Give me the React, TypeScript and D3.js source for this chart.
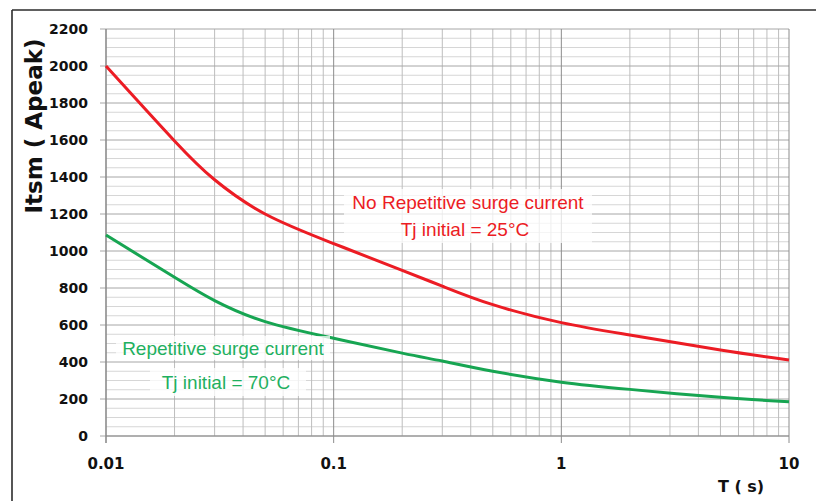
import React from "react";
import * as d3 from "d3";

const times = [0.01, 0.02, 0.03, 0.05, 0.1, 0.2, 0.3, 0.5, 1, 2, 5, 10];
const noRepetitive = [2000, 1595, 1385, 1200, 1040, 895, 810, 710, 613, 546, 465, 411];
const repetitive = [1086, 858, 732, 618, 528, 448, 405, 350, 291, 252, 209, 185];
const xTickValues = [0.01, 0.1, 1, 10];
const xTickLabels = ["0.01", "0.1", "1", "10"];
const yTickValues = [0, 200, 400, 600, 800, 1000, 1200, 1400, 1600, 1800, 2000, 2200];

const W = 816;
const H = 501;
const left = 106;
const right = 789;
const top = 29;
const bottom = 436;

const RED = "#ec1c24";
const GREEN = "#17a552";
const GREEN_TEXT = "#1fb060";

export default function App() {
  const x = d3.scaleLog().domain([0.01, 10]).range([left, right]);
  const y = d3.scaleLinear().domain([0, 2200]).range([bottom, top]);

  const minorX: number[] = [];
  for (let dec = 0.01; dec < 10; dec *= 10) {
    for (let k = 2; k <= 9; k++) minorX.push(+(dec * k).toPrecision(3));
  }
  const minorY = d3.range(50, 2200, 50).filter((v) => v % 200 !== 0);

  const line = d3
    .line<[number, number]>()
    .x((d) => x(d[0]))
    .y((d) => y(d[1]))
    .curve(d3.curveNatural);

  const redPath = line(times.map((t, i) => [t, noRepetitive[i]] as [number, number])) || "";
  const greenPath = line(times.map((t, i) => [t, repetitive[i]] as [number, number])) || "";

  const tickFont = "DejaVu Sans, sans-serif";
  const annFont = "Liberation Sans, Arial, sans-serif";

  return (
    <svg
      width={W}
      height={H}
      style={{ position: "absolute", left: 0, top: 0, background: "#fff" }}
    >
      <rect x={0} y={0} width={W} height={H} fill="#fff" />
      {/* outer frame */}
      <line x1={12} y1={10} x2={W} y2={10} stroke="#2b2b2b" strokeWidth={1.6} />
      <line x1={12} y1={10} x2={12} y2={H} stroke="#2b2b2b" strokeWidth={1.6} />

      {/* minor horizontal grid */}
      {minorY.map((v) => (
        <line key={"my" + v} x1={left} x2={right} y1={y(v)} y2={y(v)} stroke="#d6d6d6" strokeWidth={1} />
      ))}
      {/* minor vertical grid */}
      {minorX.map((v) => (
        <line key={"mx" + v} x1={x(v)} x2={x(v)} y1={top} y2={bottom} stroke="#bdbdbd" strokeWidth={1} />
      ))}
      {/* major horizontal grid */}
      {yTickValues.map((v) => (
        <line key={"gy" + v} x1={left - 6} x2={right} y1={y(v)} y2={y(v)} stroke="#a6a6a6" strokeWidth={1} />
      ))}
      {/* major vertical grid */}
      {xTickValues.map((v) => (
        <line key={"gx" + v} x1={x(v)} x2={x(v)} y1={top} y2={bottom + 7} stroke="#8c8c8c" strokeWidth={1} />
      ))}
      {/* axes */}
      <line x1={left} x2={right} y1={bottom} y2={bottom} stroke="#8c8c8c" strokeWidth={1.2} />
      <line x1={left} x2={left} y1={top} y2={bottom + 7} stroke="#8c8c8c" strokeWidth={1.2} />

      {/* curves */}
      <path d={redPath} fill="none" stroke={RED} strokeWidth={3} />
      <path d={greenPath} fill="none" stroke={GREEN} strokeWidth={3} />

      {/* annotation backgrounds */}
      <rect x={344} y={189} width={248} height={54} fill="#fff" opacity={0.75} />
      <rect x={116} y={336} width={214} height={24} fill="#fff" opacity={0.75} />
      <rect x={150} y={368} width={156} height={28} fill="#fff" opacity={0.75} />

      {/* annotations */}
      <text x={468} y={209} textAnchor="middle" fontFamily={annFont} fontSize={19} fill={RED}>
        No Repetitive surge current
      </text>
      <text x={465} y={236} textAnchor="middle" fontFamily={annFont} fontSize={19} fill={RED}>
        Tj initial = 25°C
      </text>
      <text x={223} y={355} textAnchor="middle" fontFamily={annFont} fontSize={19} fill={GREEN_TEXT}>
        Repetitive surge current
      </text>
      <text x={226} y={389} textAnchor="middle" fontFamily={annFont} fontSize={19} fill={GREEN_TEXT}>
        Tj initial = 70°C
      </text>

      {/* y tick labels */}
      {yTickValues.map((v) => (
        <text
          key={"yl" + v}
          x={88}
          y={y(v) + 5}
          textAnchor="end"
          fontFamily={tickFont}
          fontWeight="bold"
          fontSize={14}
          fill="#111"
        >
          {v}
        </text>
      ))}
      {/* x tick labels */}
      {xTickValues.map((v, i) => (
        <text
          key={"xl" + v}
          x={x(v)}
          y={469}
          textAnchor="middle"
          fontFamily={tickFont}
          fontWeight="bold"
          fontSize={15}
          fill="#111"
        >
          {xTickLabels[i]}
        </text>
      ))}

      {/* axis titles */}
      <text
        transform={`translate(42, 126) rotate(-90)`}
        textAnchor="middle"
        fontFamily={tickFont}
        fontWeight="bold"
        fontSize={23}
        fill="#111"
      >
        Itsm ( Apeak)
      </text>
      <text x={741} y={492} textAnchor="middle" fontFamily={tickFont} fontWeight="bold" fontSize={16} fill="#111">
        T ( s)
      </text>
    </svg>
  );
}
